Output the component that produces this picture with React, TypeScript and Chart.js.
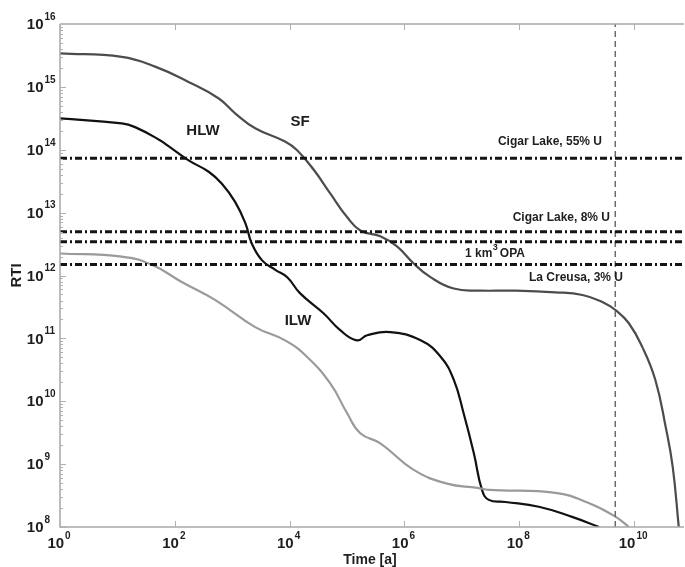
import React, { useEffect, useRef } from 'react';
import { Chart, registerables } from 'chart.js';
Chart.register(...registerables);

// ---- data (time in years, RTI) ----
const sfTime = [1, 11.9, 45.4, 173, 575, 1122, 2512, 8318, 1.35e4, 2.63e4, 5.13e4, 1e5, 1.7e5, 3.8e5, 7.4e5, 1.45e6, 2.8e6, 7.2e6, 2.1e7, 7.1e7, 4.3e8, 1.26e9, 2.8e9, 4.8e9, 8.1e9, 1.38e10, 2.34e10, 3.55e10, 4.7e10, 6.0e10];
const sfRTI = [3.4e15, 3.0e15, 2.1e15, 1.2e15, 6.6e14, 3.8e14, 2.2e14, 1.35e14, 9.8e13, 4.8e13, 2.0e13, 8.5e12, 5.2e12, 4.2e12, 2.9e12, 1.55e12, 9.5e11, 6.2e11, 5.75e11, 5.75e11, 5.4e11, 4.9e11, 3.8e11, 2.8e11, 1.74e11, 7.4e10, 2.2e10, 3.9e9, 9.1e8, 1e8];

const hlwTime = [1, 11.9, 20.3, 55, 77.6, 174, 389, 661, 1122, 1698, 2188, 3311, 5623, 9078, 1.51e4, 3.89e4, 7.59e4, 1.48e5, 2.24e5, 5.62e5, 1.91e6, 4.27e6, 7.24e6, 1.07e7, 1.62e7, 2.24e7, 2.95e7, 5.75e7, 2.19e8, 8.32e8, 2.45e9];
const hlwRTI = [3.16e14, 2.63e14, 2.29e14, 1.42e14, 1.14e14, 6.76e13, 4.47e13, 2.88e13, 1.48e13, 6.76e12, 3.24e12, 1.74e12, 1.23e12, 9.4e11, 5.25e11, 2.51e11, 1.35e11, 9.3e10, 1.12e11, 1.26e11, 9.3e10, 5.1e10, 2.19e10, 6.5e9, 1.48e9, 3.9e8, 2.7e8, 2.5e8, 2.1e8, 1.45e8, 1e8];

const ilwTime = [1, 11.9, 39.8, 132, 501, 2512, 8318, 2e4, 5.13e4, 1e5, 1.7e5, 3.8e5, 1.45e6, 5.5e6, 1.86e7, 2.95e7, 4.27e8, 1.62e9, 4.79e9, 8.13e9];
const ilwRTI = [2.24e12, 2.0e12, 1.48e12, 7.9e11, 4.1e11, 1.51e11, 9.3e10, 5.1e10, 1.9e10, 6.5e9, 3.1e9, 2.14e9, 8.1e8, 4.9e8, 4.2e8, 3.9e8, 3.5e8, 2.4e8, 1.45e8, 1e8];

const refNames = ['Cigar Lake, 55% U', 'Cigar Lake, 8% U', '1 km3 OPA', 'La Creusa, 3% U'];
const refRTI = [7.3e13, 4.95e12, 3.44e12, 1.5e12];

const earthAge = 4.7e9;

const xMin = 1;
const xMax = 7.4e10;
const yMin = 1e8;
const yMax = 1e16;
const xTickExps = [0, 2, 4, 6, 8, 10];
const yTickExps = [8, 9, 10, 11, 12, 13, 14, 15, 16];

const FONT = '"Liberation Sans", Arial, Helvetica, sans-serif';

function pts(t: number[], v: number[]) {
  return t.map((x, i) => ({ x, y: v[i] }));
}

function drawPow(ctx: CanvasRenderingContext2D, exp: number, x: number, y: number, mode: 'y' | 'x') {
  ctx.textBaseline = 'middle';
  ctx.textAlign = 'left';
  ctx.font = `bold 15px ${FONT}`;
  const w10 = ctx.measureText('10').width;
  ctx.font = `bold 10px ${FONT}`;
  const we = ctx.measureText(String(exp)).width;
  let x0: number;
  if (mode === 'y') {
    x0 = x - w10;
  } else {
    x0 = x - (w10 + 1 + we) / 2;
  }
  ctx.font = `bold 15px ${FONT}`;
  ctx.fillText('10', x0, y);
  ctx.font = `bold 10px ${FONT}`;
  ctx.fillText(String(exp), x0 + w10 + 1, y - 8);
}

const decor = {
  id: 'decor',
  afterDatasetsDraw(chart: any) {
    const ctx: CanvasRenderingContext2D = chart.ctx;
    const xs = chart.scales.x;
    const ys = chart.scales.y;
    const { left, right, top, bottom } = chart.chartArea;
    ctx.save();
    // frame
    ctx.strokeStyle = '#a8a8a8';
    ctx.lineWidth = 1.5;
    ctx.beginPath();
    ctx.moveTo(left, top);
    ctx.lineTo(right, top);
    ctx.moveTo(left, top);
    ctx.lineTo(left, bottom);
    ctx.lineTo(right, bottom);
    ctx.stroke();
    // y ticks major + minor
    ctx.lineWidth = 1;
    ctx.strokeStyle = '#b0b0b0';
    ctx.beginPath();
    for (let e = 8; e < 16; e++) {
      for (let m = 1; m <= 9; m++) {
        const py = Math.round(ys.getPixelForValue(m * Math.pow(10, e))) + 0.5;
        const len = m === 1 ? 6 : 3;
        ctx.moveTo(left, py);
        ctx.lineTo(left + len, py);
      }
    }
    // x major ticks (bottom and top)
    for (const e of xTickExps) {
      const px = Math.round(xs.getPixelForValue(Math.pow(10, e))) + 0.5;
      ctx.moveTo(px, bottom);
      ctx.lineTo(px, bottom - 6);
      ctx.moveTo(px, top);
      ctx.lineTo(px, top + 6);
    }
    ctx.stroke();

    ctx.fillStyle = '#1e1e1e';
    // y tick labels
    for (const e of yTickExps) {
      const py = ys.getPixelForValue(Math.pow(10, e));
      drawPow(ctx, e, 43.5, py + 1, 'y');
    }
    // x tick labels
    for (const e of xTickExps) {
      const px = xs.getPixelForValue(Math.pow(10, e));
      drawPow(ctx, e, px - 1, bottom + 17, 'x');
    }
    // axis titles
    ctx.font = `bold 14px ${FONT}`;
    ctx.textAlign = 'center';
    ctx.textBaseline = 'middle';
    ctx.fillText('Time [a]', (left + right) / 2 - 2, bottom + 33);
    ctx.save();
    ctx.translate(17, (top + bottom) / 2);
    ctx.rotate(-Math.PI / 2);
    ctx.font = `bold 15px ${FONT}`;
    ctx.fillText('RTI', 0, 0);
    ctx.restore();

    // curve labels
    ctx.font = `bold 15px ${FONT}`;
    ctx.textAlign = 'center';
    ctx.fillText('HLW', 203, 131);
    ctx.fillText('SF', 300, 122);
    ctx.fillText('ILW', 298, 321);

    // reference labels
    ctx.font = `bold 12px ${FONT}`;
    ctx.textAlign = 'right';
    const refLabelPos = [
      { x: 602, y: ys.getPixelForValue(refRTI[0]) - 17 },
      { x: 610, y: ys.getPixelForValue(refRTI[1]) - 14 },
      null,
      { x: 623, y: ys.getPixelForValue(refRTI[3]) + 13 },
    ];
    refLabelPos.forEach((p, i) => {
      if (p) ctx.fillText(refNames[i], p.x, p.y);
    });
    // 1 km^3 OPA with superscript
    {
      const y = ys.getPixelForValue(refRTI[2]) + 12;
      ctx.textAlign = 'left';
      ctx.font = `bold 12px ${FONT}`;
      let x = 465;
      ctx.fillText('1 km', x, y);
      x += ctx.measureText('1 km').width;
      ctx.font = `bold 9px ${FONT}`;
      ctx.fillText('3', x + 0.5, y - 6);
      x += ctx.measureText('3').width + 2.5;
      ctx.font = `bold 12px ${FONT}`;
      ctx.fillText('OPA', x, y);
    }
    ctx.restore();
  },
};

export default function App() {
  const ref = useRef<HTMLCanvasElement | null>(null);
  useEffect(() => {
    if (!ref.current) return;
    const refSets = refRTI.map((v, i) => ({
      label: refNames[i],
      data: [{ x: xMin, y: v }, { x: xMax, y: v }],
      borderColor: '#141414',
      borderWidth: 3,
      borderDash: [7, 3, 2, 3],
      pointRadius: 0,
      tension: 0,
    }));
    const curve = { borderWidth: 2.2, pointRadius: 0, tension: 0.45 };
    const chart = new Chart(ref.current, {
      type: 'line',
      data: {
        datasets: [
          ...refSets,
          {
            label: 'Earth age',
            data: [{ x: earthAge, y: yMin }, { x: earthAge, y: yMax }],
            borderColor: '#6a6a6a',
            borderWidth: 1.5,
            borderDash: [6, 4],
            pointRadius: 0,
            tension: 0,
          },
          { label: 'ILW', data: pts(ilwTime, ilwRTI), borderColor: '#9a9a9a', ...curve },
          { label: 'SF', data: pts(sfTime, sfRTI), borderColor: '#4c4c4c', ...curve },
          { label: 'HLW', data: pts(hlwTime, hlwRTI), borderColor: '#111111', ...curve },
        ] as any,
      },
      options: {
        animation: false,
        responsive: false,
        maintainAspectRatio: false,
        layout: { padding: { left: 60, right: 1, top: 24, bottom: 40 } },
        scales: {
          x: { type: 'logarithmic', min: xMin, max: xMax, display: false },
          y: { type: 'logarithmic', min: yMin, max: yMax, display: false },
        },
        plugins: {
          legend: { display: false },
          tooltip: { enabled: false },
        },
      } as any,
      plugins: [decor],
    });
    return () => chart.destroy();
  }, []);
  return (
    <div style={{ position: 'absolute', left: 0, top: 0, width: 685, height: 567, background: '#fff' }}>
      <canvas ref={ref} width={685} height={567} style={{ display: 'block' }} />
    </div>
  );
}
